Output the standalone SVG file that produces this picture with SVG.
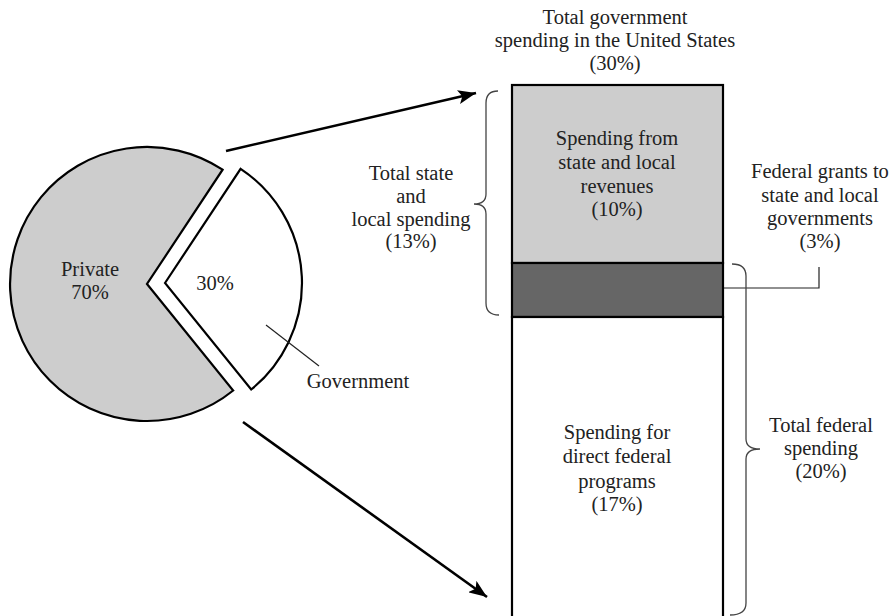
<svg xmlns="http://www.w3.org/2000/svg" width="896" height="616" viewBox="0 0 896 616" font-family="'Liberation Serif', serif">
  <style>
    text { font-family: 'Liberation Serif', serif; font-size: 20.5px; fill: #222; text-anchor: middle; }
    .slice { stroke: #000; stroke-width: 2.2; stroke-linejoin: miter; }
    .bar { stroke: #000; stroke-width: 2.2; }
    .brace { fill: none; stroke: #444; stroke-width: 1.3; }
    .leader { fill: none; stroke: #222; stroke-width: 1.2; }
    .arrow { fill: none; stroke: #000; stroke-width: 2.6; }
  </style>
  <defs>
    <marker id="head" markerUnits="userSpaceOnUse" markerWidth="20" markerHeight="14" refX="18" refY="7" orient="auto">
      <path d="M0,0 L18,7 L0,14 L4,7 Z" fill="#000"/>
    </marker>
  </defs>
  <rect width="896" height="616" fill="#fff"/>

  <!-- pie chart -->
  <g id="pie-private">
    <path class="slice" fill="#cdcdcd" d="M147,284 L233.2,390.5 A137,137 0 1 1 222.6,169.7 Z"/>
    <text x="90" y="276">Private</text>
    <text x="90" y="299">70%</text>
  </g>
  <g id="pie-government">
    <path class="slice" fill="#fff" d="M165,283 L240.6,168.8 A137,137 0 0 1 251.2,389.5 Z"/>
    <text x="215" y="290">30%</text>
    <line class="leader" x1="266" y1="325" x2="319" y2="366" stroke-width="1"/>
    <text x="358" y="388">Government</text>
  </g>

  <!-- connectors -->
  <g id="connectors">
    <line class="arrow" x1="226" y1="151" x2="476" y2="93" marker-end="url(#head)"/>
    <line class="arrow" x1="243" y1="422" x2="487" y2="597" marker-end="url(#head)"/>
    <path class="leader" d="M700,288 L819,288 L819,267"/>
    <path class="brace" d="M498,91 Q486,91 486,103 L486,194 Q486,204 474,204 Q486,204 486,214 L486,303 Q486,315 499,315"/>
    <path class="brace" d="M732,264 Q746,264 746,276 L746,439 Q746,449 760,449 Q746,449 746,459 L746,603 Q746,615 730,615"/>
  </g>

  <!-- title -->
  <g id="title">
    <text x="615" y="24">Total government</text>
    <text x="615" y="47">spending in the United States</text>
    <text x="615" y="70">(30%)</text>
  </g>

  <!-- stacked bar -->
  <g id="bar-state-local">
    <rect class="bar" x="512" y="85" width="211" height="178" fill="#cdcdcd"/>
    <text x="617" y="145">Spending from</text>
    <text x="617" y="169">state and local</text>
    <text x="617" y="193">revenues</text>
    <text x="617" y="216">(10%)</text>
  </g>
  <g id="bar-grants">
    <rect class="bar" x="512" y="263" width="211" height="54" fill="#666"/>
  </g>
  <g id="bar-federal">
    <rect class="bar" x="512" y="317" width="211" height="310" fill="#fff"/>
    <text x="617" y="439">Spending for</text>
    <text x="617" y="463">direct federal</text>
    <text x="617" y="488">programs</text>
    <text x="617" y="511">(17%)</text>
  </g>

  <!-- side labels -->
  <g id="label-state-local">
    <text x="411" y="180">Total state</text>
    <text x="411" y="203">and</text>
    <text x="411" y="226">local spending</text>
    <text x="411" y="248">(13%)</text>
  </g>
  <g id="label-grants">
    <text x="820" y="178">Federal grants to</text>
    <text x="820" y="202">state and local</text>
    <text x="820" y="225">governments</text>
    <text x="820" y="248">(3%)</text>
  </g>
  <g id="label-federal">
    <text x="821" y="432">Total federal</text>
    <text x="821" y="455">spending</text>
    <text x="821" y="478">(20%)</text>
  </g>
</svg>
